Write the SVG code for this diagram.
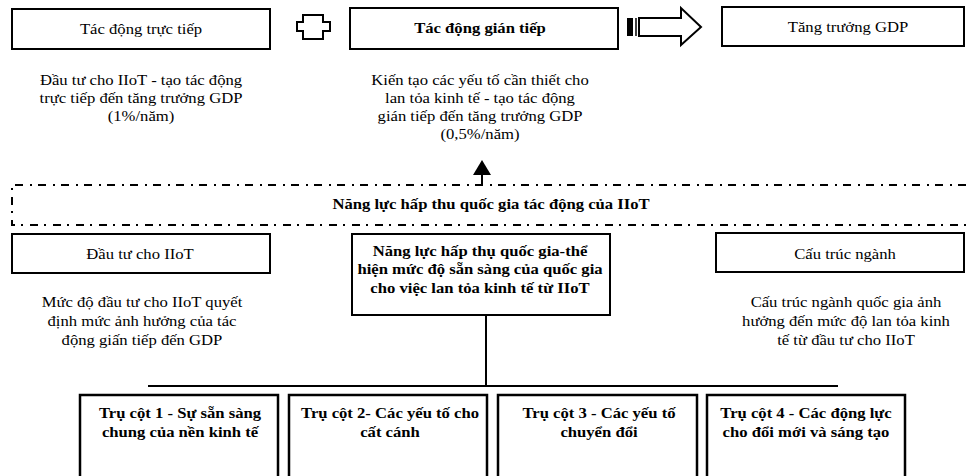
<svg xmlns="http://www.w3.org/2000/svg" width="966" height="476" viewBox="0 0 966 476">
  <style>
    .box { fill: #fff; stroke: #000; stroke-width: 2; }
    .pillar { fill: #fff; stroke: #000; stroke-width: 2.5; }
    .line { fill: none; stroke: #000; stroke-width: 2; }
    .band { fill: none; stroke: #000; stroke-width: 2; stroke-dasharray: 8 6 2 7; }
    text { font-family: "Liberation Serif", "Times New Roman", "DejaVu Serif", serif; font-size: 15px; fill: #000; text-anchor: middle; }
    .b { font-weight: bold; }
  </style>

  <rect width="966" height="476" fill="#fff"/>

  <!-- connectors -->
  <g id="connectors">
    <!-- two-way link between direct and indirect impact -->
    <path class="line" d="M303,15 H323 V22 H330 V31 H323 V39 H303 V31 H297 V22 H303 Z"/>
    <!-- striped block arrow towards GDP growth -->
    <rect x="627" y="18" width="6" height="18" fill="#000"/>
    <line x1="636" y1="18" x2="636" y2="36" stroke="#000" stroke-width="1.5"/>
    <path class="line" d="M639,18 H681 V8 L701,27 L681,45 V36 H639 Z" fill="#fff"/>
    <!-- absorption capacity feeding the indirect impact -->
    <line x1="482" y1="185" x2="482" y2="174" stroke="#000" stroke-width="2"/>
    <polygon points="473,175 491,175 482,160" fill="#000"/>
    <!-- tree from the capacity box to the four pillars -->
    <line class="line" x1="486" y1="315" x2="486" y2="386"/>
    <line class="line" x1="148" y1="386" x2="838" y2="386"/>
  </g>

  <!-- top row -->
  <g id="direct">
    <rect class="box" x="12" y="9" width="258" height="40"/>
    <g transform="translate(141 0) scale(1.11 1)">
      <text x="0" y="34">Tác động trực tiếp</text>
    </g>
    <g transform="translate(141 0) scale(1.11 1)">
      <text x="0" y="85">Đầu tư cho IIoT - tạo tác động</text>
      <text x="0" y="103">trực tiếp đến tăng trưởng GDP</text>
      <text x="0" y="121">(1%/năm)</text>
    </g>
  </g>

  <g id="indirect">
    <rect class="box" x="350" y="8" width="268" height="41"/>
    <g transform="translate(480 0) scale(1.11 1)">
      <text class="b" x="0" y="33">Tác động gián tiếp</text>
    </g>
    <g transform="translate(480 0) scale(1.11 1)">
      <text x="0" y="85">Kiến tạo các yếu tố cần thiết cho</text>
      <text x="0" y="103">lan tỏa kinh tế - tạo tác động</text>
      <text x="0" y="121">gián tiếp đến tăng trưởng GDP</text>
      <text x="0" y="139">(0,5%/năm)</text>
    </g>
  </g>

  <g id="gdp">
    <rect class="box" x="722" y="7" width="242" height="39"/>
    <g transform="translate(848 0) scale(1.11 1)">
      <text x="0" y="32">Tăng trưởng GDP</text>
    </g>
  </g>

  <!-- absorption capacity band -->
  <g id="capacity-band">
    <path class="band" d="M966,185 H12 V225 H966"/>
    <g transform="translate(491 0) scale(1.11 1)">
      <text class="b" x="0" y="209">Năng lực hấp thu quốc gia tác động của IIoT</text>
    </g>
  </g>

  <!-- middle row -->
  <g id="investment">
    <rect class="box" x="12" y="234" width="258" height="39"/>
    <g transform="translate(140 0) scale(1.11 1)">
      <text x="0" y="259">Đầu tư cho IIoT</text>
    </g>
    <g transform="translate(142 0) scale(1.11 1)">
      <text x="0" y="307">Mức độ đầu tư cho IIoT quyết</text>
      <text x="0" y="326">định mức ảnh hưởng của tác</text>
      <text x="0" y="345">động giấn tiếp đến GDP</text>
    </g>
  </g>

  <g id="capacity">
    <rect class="box" x="352" y="234" width="258" height="81"/>
    <g transform="translate(480 0) scale(1.11 1)">
      <text class="b" x="0" y="256">Năng lực hấp thụ quốc gia-thể</text>
      <text class="b" x="0" y="274.5">hiện mức độ sẵn sàng của quốc gia</text>
      <text class="b" x="0" y="293">cho việc lan tỏa kinh tế từ IIoT</text>
    </g>
  </g>

  <g id="structure">
    <rect class="box" x="716" y="233" width="248" height="39"/>
    <g transform="translate(845 0) scale(1.11 1)">
      <text x="0" y="259">Cấu trúc ngành</text>
    </g>
    <g transform="translate(846 0) scale(1.11 1)">
      <text x="0" y="307">Cấu trúc ngành quốc gia ảnh</text>
      <text x="0" y="326">hưởng đến mức độ lan tỏa kinh</text>
      <text x="0" y="345">tế từ đầu tư cho IIoT</text>
    </g>
  </g>

  <!-- pillars -->
  <g id="pillar-1">
    <rect class="pillar" x="80" y="395" width="198" height="100"/>
    <g transform="translate(180 0) scale(1.11 1)">
      <text class="b" x="0" y="418">Trụ cột 1 - Sự sẵn sàng</text>
      <text class="b" x="0" y="437">chung của nền kinh tế</text>
    </g>
  </g>
  <g id="pillar-2">
    <rect class="pillar" x="289" y="395" width="198" height="100"/>
    <g transform="translate(390 0) scale(1.11 1)">
      <text class="b" x="0" y="418">Trụ cột 2- Các yếu tố cho</text>
      <text class="b" x="0" y="437">cất cánh</text>
    </g>
  </g>
  <g id="pillar-3">
    <rect class="pillar" x="498" y="395" width="199" height="100"/>
    <g transform="translate(599 0) scale(1.11 1)">
      <text class="b" x="0" y="418">Trụ cột 3 - Các yếu tố</text>
      <text class="b" x="0" y="437">chuyển đổi</text>
    </g>
  </g>
  <g id="pillar-4">
    <rect class="pillar" x="707" y="395" width="198" height="100"/>
    <g transform="translate(806 0) scale(1.11 1)">
      <text class="b" x="0" y="418">Trụ cột 4 - Các động lực</text>
      <text class="b" x="0" y="437">cho đổi mới và sáng tạo</text>
    </g>
  </g>
</svg>
